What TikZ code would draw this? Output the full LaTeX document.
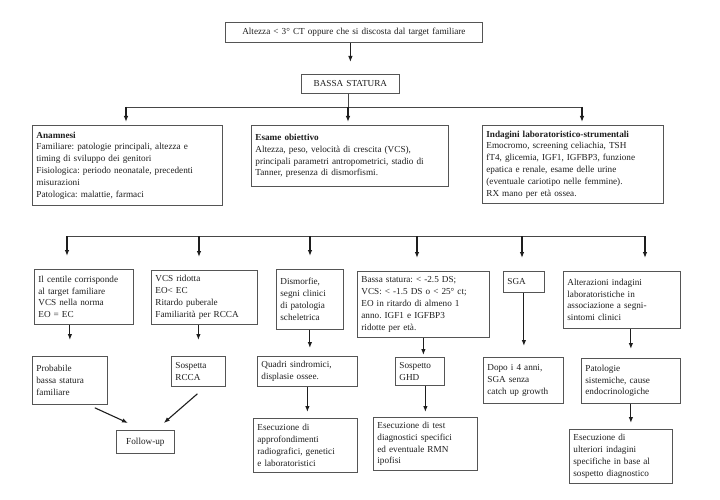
\documentclass[tikz,border=0pt]{standalone}
\usepackage{fontspec}
\setmainfont{Liberation Serif}
\usetikzlibrary{arrows.meta}
\frenchspacing

\tikzset{every picture/.style={line width=0.75pt}}
\tikzset{
  box/.style={draw={rgb, 255:red, 85; green, 85; blue, 85 }, line width=0.8pt, anchor=north west,
    inner xsep=4pt, inner ysep=2pt, align=left, text={rgb, 255:red, 30; green, 30; blue, 30 },
    font=\fontsize{9.2}{11.8}\selectfont},
  cbox/.style={box, align=center},
  arr/.style={draw={rgb, 255:red, 30; green, 30; blue, 30 }, line width=1.1pt, -{Latex[length=6pt,width=4.5pt]}},
  bus/.style={draw={rgb, 255:red, 70; green, 70; blue, 70 }, line width=0.9pt}
}

\begin{document}
\begin{tikzpicture}[x=1pt,y=1pt,yscale=-1,xscale=1]
\useasboundingbox (0,0) rectangle (720,500);

% Text Node
\node [cbox, text width=249, minimum height=20] (top) at (225,22) {Altezza < 3° CT oppure che si discosta dal target familiare};
% Text Node
\node [cbox, text width=90, minimum height=19] (bassa) at (301,74) {BASSA STATURA};

% Text Node
\node [box, text width=182, minimum height=80] (anam) at (32,125) {\textbf{Anamnesi}\\Familiare: patologie principali, altezza e\\timing di sviluppo dei genitori\\Fisiologica: periodo neonatale, precedenti\\misurazioni\\Patologica: malattie, farmaci};
% Text Node
\node [box, text width=189, minimum height=61] (esame) at (251,125) {\textbf{Esame obiettivo}\\Altezza, peso, velocità di crescita (VCS),\\principali parametri antropometrici, stadio di\\Tanner, presenza di dismorfismi.};
% Text Node
\node [box, text width=173, minimum height=78] (indag) at (482,125) {\textbf{Indagini laboratoristico-strumentali}\\Emocromo, screening celiachia, TSH\\fT4, glicemia, IGF1, IGFBP3, funzione\\epatica e renale, esame delle urine\\(eventuale cariotipo nelle femmine).\\RX mano per età ossea.};

% Text Node
\node [box, text width=91, minimum height=55] (c1) at (34,269) {Il centile corrisponde\\al target familiare\\VCS nella norma\\EO = EC};
% Text Node
\node [box, text width=98, minimum height=54] (c2) at (151,270) {VCS ridotta\\EO< EC\\Ritardo puberale\\Familiarità per RCCA};
% Text Node
\node [box, text width=59, minimum height=60] (c3) at (276,269) {Dismorfie,\\segni clinici\\di patologia\\scheletrica};
% Text Node
\node [box, text width=124, minimum height=66] (c4) at (357,271) {Bassa statura: < -2.5 DS;\\VCS: < -1.5 DS o < 25° ct;\\EO in ritardo di almeno 1\\anno. IGF1 e IGFBP3\\ridotte per età.};
% Text Node
\node [box, text width=33, minimum height=21] (c5) at (503,271) {SGA};
% Text Node
\node [box, text width=109, minimum height=57] (c6) at (563,271) {Alterazioni indagini\\laboratoristiche in\\associazione a segni-\\sintomi clinici};

% Text Node
\node [box, text width=67, minimum height=48] (p1) at (32,356) {Probabile\\bassa statura\\familiare};
% Text Node
\node [box, text width=46, minimum height=30] (p2) at (171,356) {Sospetta\\RCCA};
% Text Node
\node [box, text width=92, minimum height=30] (p3) at (257,356) {Quadri sindromici,\\displasie ossee.};
% Text Node
\node [box, text width=41, minimum height=28] (p4) at (395,357) {Sospetto\\GHD};
% Text Node
\node [box, text width=72, minimum height=46] (p5) at (483,357) {Dopo i 4 anni,\\SGA senza\\catch up growth};
% Text Node
\node [box, text width=91, minimum height=45] (p6) at (581,358) {Patologie\\sistemiche, cause\\endocrinologiche};

% Text Node
\node [cbox, text width=50, minimum height=23] (fu) at (116,430) {Follow-up};
% Text Node
\node [box, text width=96, minimum height=54] (e3) at (253,418) {Esecuzione di\\approfondimenti\\radiografici, genetici\\e laboratoristici};
% Text Node
\node [box, text width=96, minimum height=53] (e4) at (373,417) {Esecuzione di test\\diagnostici specifici\\ed eventuale RMN\\ipofisi};
% Text Node
\node [box, text width=95, minimum height=54] (e6) at (569,429) {Esecuzione di\\ulteriori indagini\\specifiche in base al\\sospetto diagnostico};

%Straight Lines
\draw [arr, shorten >=12pt] (bassa.north |- top.south) -- (bassa.north);

%Straight Lines
\coordinate (j0) at (348,107);
\coordinate (j1) at (126,107);
\coordinate (j3) at (582,107);
\draw [bus] (j0 |- bassa.south) -- (j0);
\draw [bus] (j1) -- (j3);
\draw [arr, shorten >=3pt] (j1) -- (j1 |- anam.north);
\draw [arr, shorten >=3pt] (j0) -- (j0 |- esame.north);
\draw [arr, shorten >=3pt] (j3) -- (j3 |- indag.north);

%Straight Lines
\coordinate (k1) at (67,236);
\coordinate (k2) at (199,236);
\coordinate (k3) at (310,236);
\coordinate (k4) at (417,236);
\coordinate (k5) at (522,236);
\coordinate (k6) at (645,236);
\draw [bus] (k1) -- (k6);
\foreach \i in {1,...,6} {
  \draw [arr, shorten >=13pt] (k\i) -- (k\i |- c\i.north);
}

%Straight Lines
\draw [arr, shorten >=16pt] (p1.north |- c1.south) -- (p1.north);
\draw [arr, shorten >=16pt] (p2.north |- c2.south) -- (p2.north);
\draw [arr, shorten >=8pt] (c3.south) -- (c3.south |- p3.north);
\draw [arr, shorten >=2pt] (c4.south) -- (c4.south |- p4.north);
\draw [arr, shorten >=11pt] (c5.south) -- (c5.south |- p5.north);
\draw [arr, shorten >=9pt] (p6.north |- c6.south) -- (p6.north);

%Straight Lines
\draw [arr] ([xshift=-13pt,yshift=3pt]p1.south east) -- ([xshift=12pt,yshift=-7pt]fu.north west);
\draw [arr] ([xshift=-1pt,yshift=7pt]p2.south) -- ([xshift=-11pt,yshift=-7pt]fu.north east);
\draw [arr, shorten >=6pt] (p3.south) -- (p3.south |- e3.north);
\draw [arr, shorten >=5pt] (e4.north |- p4.south) -- (e4.north);
\draw [arr, shorten >=6pt] (p6.south) -- (p6.south |- e6.north);

\end{tikzpicture}
\end{document}
